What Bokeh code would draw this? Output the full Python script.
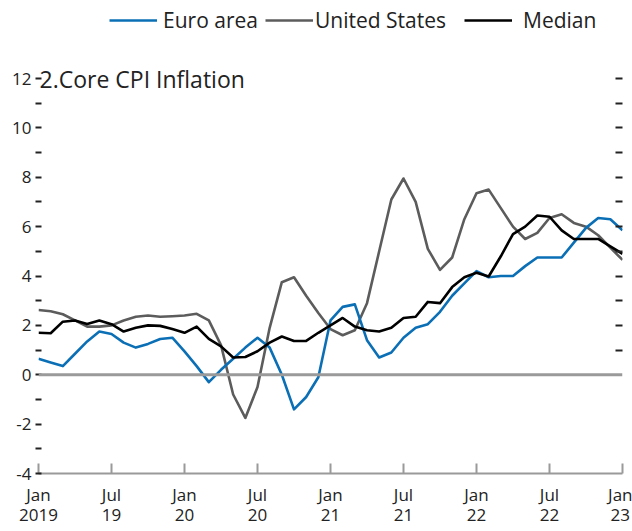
from bokeh.plotting import figure
from bokeh.models import Range1d, FixedTicker, LinearAxis, Span, Legend, LegendItem, Label
from bokeh.embed import file_html
from bokeh.resources import INLINE

# Month index: 0 = Jan 2019 ... 48 = Jan 2023
months = list(range(49))

euro_area = [0.65, 0.5, 0.35, 0.85, 1.35, 1.75, 1.65, 1.3, 1.1, 1.25, 1.45, 1.5,
             0.95, 0.35, -0.3, 0.2, 0.65, 1.1, 1.5, 1.1, 0.0, -1.4, -0.9, -0.1,
             2.2, 2.75, 2.85, 1.4, 0.7, 0.9, 1.5, 1.9, 2.05, 2.55, 3.2, 3.7,
             4.2, 3.95, 4.0, 4.0, 4.4, 4.75, 4.75, 4.75, 5.35, 5.95, 6.35, 6.3, 5.85]

united_states = [2.62, 2.57, 2.45, 2.2, 1.95, 1.95, 2.0, 2.2, 2.35, 2.4, 2.35, 2.37,
                 2.4, 2.47, 2.2, 1.2, -0.8, -1.75, -0.5, 1.9, 3.75, 3.95, 3.2, 2.5,
                 1.85, 1.6, 1.8, 2.9, 5.0, 7.1, 7.95, 7.0, 5.1, 4.25, 4.75, 6.3,
                 7.35, 7.5, 6.75, 6.0, 5.5, 5.75, 6.35, 6.5, 6.15, 6.0, 5.65, 5.15, 4.65]

median = [1.7, 1.68, 2.15, 2.2, 2.06, 2.2, 2.05, 1.75, 1.9, 2.0, 1.98, 1.85,
          1.7, 1.95, 1.45, 1.15, 0.7, 0.72, 0.95, 1.3, 1.55, 1.37, 1.37, 1.7,
          2.0, 2.3, 1.95, 1.8, 1.75, 1.9, 2.3, 2.35, 2.95, 2.9, 3.55, 3.95,
          4.13, 3.98, 4.8, 5.7, 6.0, 6.45, 6.4, 5.85, 5.5, 5.5, 5.5, 5.2, 4.9]

x_tick_months = [0, 6, 12, 18, 24, 30, 36, 42, 48]
x_tick_labels = ["Jan\n2019", "Jul\n19", "Jan\n20", "Jul\n20", "Jan\n21",
                 "Jul\n21", "Jan\n22", "Jul\n22", "Jan\n23"]
y_major_ticks = [-4, -2, 0, 2, 4, 6, 8, 10, 12]
y_major_labels = ["-4", "-2", "0", "2", "4", "6", "8", "10", "12"]
y_minor_ticks = [-3, -1, 1, 3, 5, 7, 9, 11]
right_ticks = [1, 2, 3, 4, 5, 6, 7, 8, 9, 10, 11, 12]

title_text = "2.Core CPI Inflation"
series_names = ["Euro area", "United States", "Median"]

BLUE = "#0b6fb6"
GRAY = "#5c5c5c"
BLACK = "#000000"
AXIS_GRAY = "#9a9a9a"
TEXT = "#222222"
FONT = "Open Sans"

# The plot area reaches the top of the canvas so the title and legend
# (drawn inside it) are not clipped; the axis scale runs from -4 to 12.
p = figure(width=632, height=531, x_range=Range1d(0, 48), y_range=Range1d(-4, 15.16),
           output_backend="svg", toolbar_location=None,
           min_border_left=38, min_border_right=10, min_border_top=0, min_border_bottom=58)
p.outline_line_color = None
p.xgrid.visible = False
p.ygrid.visible = False
p.background_fill_color = "white"
p.border_fill_color = "white"

# zero line
p.add_layout(Span(location=0, dimension="width", line_color=AXIS_GRAY, line_width=3))

r_us = p.line(months, united_states, line_color=GRAY, line_width=2.6, line_join="round")
r_eu = p.line(months, euro_area, line_color=BLUE, line_width=2.6, line_join="round")
r_md = p.line(months, median, line_color=BLACK, line_width=2.6, line_join="round")

# bottom axis
xa = p.xaxis[0]
xa.ticker = FixedTicker(ticks=x_tick_months)
xa.major_label_overrides = {m: l for m, l in zip(x_tick_months, x_tick_labels)}
xa.axis_line_color = AXIS_GRAY
xa.axis_line_width = 2
xa.major_tick_line_color = AXIS_GRAY
xa.major_tick_line_width = 2
xa.major_tick_in = 10
xa.major_tick_out = 0
xa.minor_tick_line_color = None
xa.major_label_standoff = 9
xa.major_label_text_font = FONT
xa.major_label_text_font_size = "17px"
xa.major_label_text_color = TEXT
xa.major_label_text_line_height = 0.9

# left axis
ya = p.yaxis[0]
ya.ticker = FixedTicker(ticks=y_major_ticks, minor_ticks=y_minor_ticks)
ya.major_label_overrides = {t: l for t, l in zip(y_major_ticks, y_major_labels)}
ya.axis_line_color = None
ya.major_tick_line_color = TEXT
ya.major_tick_line_width = 2
ya.major_tick_in = 3
ya.major_tick_out = 3
ya.minor_tick_line_color = TEXT
ya.minor_tick_line_width = 2
ya.minor_tick_in = 3
ya.minor_tick_out = 3
ya.major_label_standoff = 4
ya.major_label_text_font = FONT
ya.major_label_text_font_size = "17px"
ya.major_label_text_color = TEXT

# right axis (ticks only)
ra = LinearAxis(ticker=FixedTicker(ticks=right_ticks))
ra.major_label_overrides = {t: "" for t in right_ticks}
ra.major_label_text_font_size = "0px"
ra.major_label_standoff = 0
ra.axis_line_color = None
ra.major_tick_line_color = TEXT
ra.major_tick_line_width = 2
ra.major_tick_in = 7
ra.major_tick_out = 0
ra.minor_tick_line_color = None
p.add_layout(ra, "right")

# title, anchored at the top-left corner of the axis scale
p.add_layout(Label(x=0, y=12, x_offset=1, text=title_text,
                   text_font=FONT, text_font_size="23px", text_color=TEXT,
                   text_baseline="middle", text_align="left"))

# legends (one per item, to place each one)
def make_legend(name, renderer, x, standoff):
    return Legend(items=[LegendItem(label=name, renderers=[renderer])],
                  location=(x, 439), orientation="horizontal",
                  glyph_width=48, glyph_height=20, label_standoff=standoff,
                  padding=0, margin=0, spacing=0,
                  border_line_color=None, background_fill_alpha=0,
                  label_text_font=FONT, label_text_font_size="21px",
                  label_text_color=TEXT)

p.add_layout(make_legend(series_names[0], r_eu, 71, 6))
p.add_layout(make_legend(series_names[1], r_us, 227, 2))
p.add_layout(make_legend(series_names[2], r_md, 426, 11))

open("out.html", "w").write(file_html(p, INLINE))
